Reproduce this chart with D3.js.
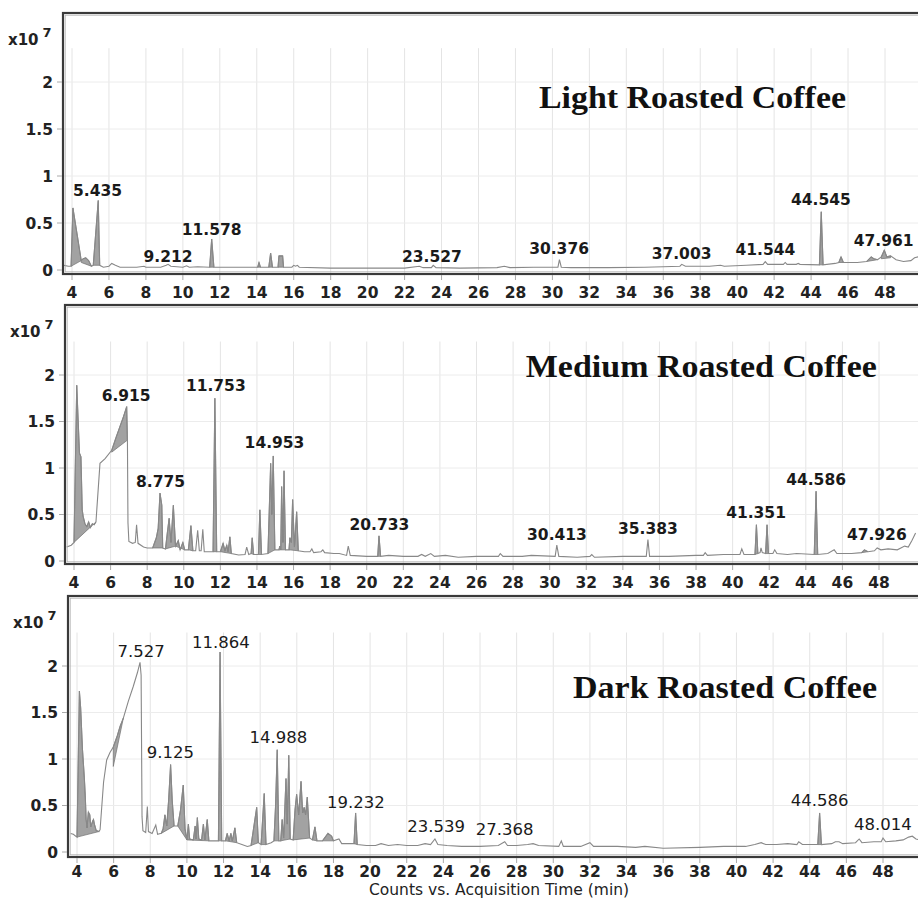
<!DOCTYPE html>
<html><head><meta charset="utf-8">
<script src="https://cdn.jsdelivr.net/npm/d3@7/dist/d3.min.js"></script>
<style>body{margin:0;background:#fff}svg{display:block}</style>
</head><body>
<svg id="c" width="918" height="899"></svg>
<script>
// ---------- DATA (time in min, counts in units of 1e7) ----------
const xTicks = [4,6,8,10,12,14,16,18,20,22,24,26,28,30,32,34,36,38,40,42,44,46,48];
const yTicks = [0,0.5,1,1.5,2];
const yTickLabels = ["0","0.5","1","1.5","2"];
const titles = ["Light Roasted Coffee","Medium Roasted Coffee","Dark Roasted Coffee"];
const xAxisTitle = "Counts vs. Acquisition Time (min)";

const lightSeries = [
[3.55,0.05],[3.8,0.04],[3.95,0.04],[4.05,0.66],[4.3,0.35],[4.5,0.10],[4.6,0.12],[4.75,0.13],[4.9,0.10],[5.05,0.04],[5.15,0.05],[5.42,0.74],[5.5,0.05],[5.7,0.03],[6.0,0.04],[6.15,0.07],[6.35,0.05],[6.6,0.03],[7.5,0.03],[7.9,0.04],[8.0,0.03],[8.8,0.03],[9.1,0.05],[9.2,0.06],[9.35,0.04],[10.0,0.03],[10.2,0.045],[10.35,0.03],[10.8,0.035],[11.45,0.03],[11.56,0.33],[11.68,0.03],[12.5,0.03],[13.5,0.03],[14.05,0.03],[14.12,0.08],[14.2,0.03],[14.65,0.03],[14.75,0.18],[14.85,0.03],[15.15,0.03],[15.2,0.15],[15.4,0.15],[15.45,0.03],[15.9,0.03],[16.0,0.05],[16.1,0.04],[16.2,0.05],[16.3,0.03],[18,0.02],[20,0.02],[22,0.02],[22.8,0.04],[23.0,0.025],[23.45,0.025],[23.55,0.05],[23.7,0.025],[25,0.02],[27,0.025],[27.4,0.04],[27.7,0.025],[29,0.03],[30.3,0.03],[30.38,0.11],[30.48,0.03],[31,0.025],[33,0.025],[35,0.03],[36,0.035],[36.9,0.04],[37.0,0.06],[37.2,0.04],[38.5,0.04],[39.1,0.05],[39.3,0.04],[40.5,0.05],[41.4,0.06],[41.52,0.09],[41.65,0.06],[42.5,0.06],[42.6,0.08],[42.7,0.06],[43.2,0.06],[43.3,0.07],[43.4,0.06],[44.45,0.055],[44.55,0.62],[44.65,0.055],[45.3,0.07],[45.5,0.08],[45.62,0.14],[45.75,0.08],[46.5,0.08],[47.0,0.09],[47.25,0.14],[47.4,0.12],[47.6,0.11],[47.8,0.14],[47.96,0.21],[48.1,0.14],[48.3,0.15],[48.6,0.11],[49.0,0.09],[49.4,0.1],[49.6,0.13],[49.8,0.14],[50,0.13]
];
const lightShade = [
[3.95,4.5,0.04,0.10],[4.5,5.05,0.08,0.04],[5.15,5.5,0.05,0.05],[11.45,11.68,0.03,0.03],[14.05,14.2,0.03,0.03],[14.65,14.85,0.03,0.03],[15.15,15.45,0.03,0.03],[44.45,44.65,0.055,0.055],[45.5,45.75,0.08,0.08],[47.0,47.6,0.09,0.11],[47.8,48.3,0.12,0.13]
];
const lightLabels = [
["5.435",5.38,0.79],["9.212",9.2,0.088],["11.578",11.56,0.37],["23.527",23.48,0.08],["30.376",30.36,0.17],["37.003",36.99,0.114],["41.544",41.53,0.16],["44.545",44.53,0.69],["47.961",47.93,0.26]
];

const mediumSeries = [
[3.6,0.15],[3.85,0.17],[4.0,0.2],[4.15,1.89],[4.25,1.4],[4.3,1.16],[4.38,1.12],[4.45,0.55],[4.5,0.48],[4.6,0.40],[4.7,0.37],[4.8,0.42],[4.9,0.36],[5.0,0.40],[5.1,0.39],[5.2,0.42],[5.42,1.05],[5.7,1.10],[6.06,1.19],[6.3,1.33],[6.5,1.44],[6.7,1.55],[6.88,1.66],[6.92,1.30],[6.95,0.41],[7.0,0.21],[7.2,0.19],[7.35,0.20],[7.42,0.39],[7.5,0.19],[7.8,0.15],[8.0,0.14],[8.3,0.14],[8.5,0.25],[8.6,0.35],[8.7,0.73],[8.8,0.6],[8.85,0.14],[9.0,0.13],[9.1,0.30],[9.2,0.46],[9.3,0.20],[9.43,0.60],[9.55,0.16],[9.7,0.22],[9.8,0.12],[9.95,0.2],[10.05,0.12],[10.25,0.12],[10.39,0.38],[10.5,0.11],[10.65,0.11],[10.76,0.33],[10.85,0.11],[10.95,0.11],[11.04,0.34],[11.12,0.10],[11.6,0.10],[11.7,1.75],[11.8,0.10],[12.0,0.10],[12.15,0.19],[12.25,0.11],[12.35,0.17],[12.42,0.10],[12.52,0.26],[12.6,0.08],[13.0,0.065],[13.35,0.07],[13.44,0.15],[13.55,0.07],[13.68,0.08],[13.74,0.25],[13.82,0.07],[14.08,0.07],[14.16,0.55],[14.25,0.07],[14.6,0.08],[14.75,1.05],[14.81,0.5],[14.89,1.13],[14.98,0.12],[15.2,0.12],[15.25,0.16],[15.3,0.12],[15.35,0.80],[15.42,0.2],[15.48,0.97],[15.56,0.12],[15.75,0.12],[15.8,0.25],[15.88,0.2],[15.95,0.66],[16.05,0.15],[16.17,0.53],[16.26,0.11],[16.6,0.10],[16.9,0.10],[17.0,0.13],[17.1,0.09],[17.5,0.10],[17.6,0.12],[17.7,0.09],[18.2,0.08],[18.5,0.08],[18.9,0.06],[18.99,0.16],[19.1,0.06],[20.0,0.05],[20.6,0.05],[20.67,0.27],[20.76,0.05],[21.2,0.06],[22,0.05],[22.8,0.05],[23.0,0.07],[23.2,0.05],[23.5,0.08],[23.7,0.05],[24.3,0.06],[25,0.04],[26,0.05],[27.2,0.05],[27.3,0.08],[27.45,0.05],[28.5,0.05],[29,0.06],[30.3,0.05],[30.39,0.17],[30.5,0.05],[31.5,0.04],[32.2,0.05],[32.3,0.07],[32.45,0.04],[34,0.05],[35.28,0.05],[35.37,0.23],[35.46,0.05],[36.5,0.05],[38,0.06],[38.4,0.06],[38.5,0.09],[38.62,0.06],[39.5,0.07],[40.4,0.07],[40.5,0.13],[40.62,0.07],[41.22,0.07],[41.3,0.39],[41.38,0.08],[41.5,0.09],[41.55,0.14],[41.62,0.09],[41.8,0.08],[41.88,0.39],[41.96,0.08],[42.2,0.08],[42.3,0.12],[42.42,0.08],[43.0,0.07],[43.5,0.08],[44.46,0.07],[44.56,0.75],[44.65,0.07],[45.2,0.08],[45.55,0.12],[45.7,0.08],[46.5,0.08],[47.05,0.09],[47.2,0.12],[47.4,0.10],[47.75,0.11],[47.9,0.14],[48.1,0.12],[48.5,0.13],[49.0,0.12],[49.4,0.16],[49.6,0.15],[49.8,0.22],[50,0.3]
];
const mediumShade = [
[4.0,5.2,0.2,0.42],[6.06,6.92,1.17,1.30],[8.3,8.85,0.14,0.14],[9.0,9.55,0.13,0.16],[9.55,10.05,0.16,0.12],[10.25,10.5,0.12,0.11],[11.6,11.8,0.10,0.10],[12.0,12.6,0.10,0.08],[13.68,13.82,0.08,0.07],[14.08,14.25,0.07,0.07],[14.6,14.98,0.08,0.12],[15.2,15.56,0.12,0.12],[15.75,16.26,0.12,0.11],[20.6,20.76,0.05,0.05],[41.22,41.38,0.07,0.08],[41.8,41.96,0.08,0.08],[44.46,44.65,0.07,0.07],[47.05,47.4,0.09,0.10]
];
const mediumLabels = [
["6.915",6.85,1.72],["8.775",8.73,0.80],["11.753",11.75,1.83],["14.953",14.96,1.21],["20.733",20.69,0.33],["30.413",30.40,0.23],["35.383",35.37,0.29],["41.351",41.28,0.46],["44.586",44.56,0.82],["47.926",47.88,0.23]
];

const darkSeries = [
[3.65,0.20],[3.8,0.19],[4.0,0.16],[4.13,1.73],[4.2,1.55],[4.3,1.10],[4.4,0.8],[4.45,0.61],[4.5,0.35],[4.55,0.26],[4.62,0.43],[4.7,0.40],[4.75,0.27],[4.85,0.33],[4.9,0.35],[4.95,0.30],[5.05,0.23],[5.2,0.22],[5.26,0.24],[5.45,0.75],[5.62,0.99],[5.8,1.07],[5.98,1.13],[6.2,1.25],[6.35,1.35],[6.53,1.44],[6.8,1.62],[7.07,1.78],[7.3,1.93],[7.44,2.04],[7.5,1.9],[7.55,0.38],[7.6,0.23],[7.75,0.21],[7.84,0.49],[7.9,0.22],[8.1,0.20],[8.3,0.29],[8.4,0.19],[8.6,0.20],[8.7,0.25],[8.8,0.40],[8.9,0.28],[9.0,0.55],[9.11,0.94],[9.2,0.55],[9.3,0.28],[9.5,0.28],[9.65,0.45],[9.8,0.72],[9.9,0.25],[10.0,0.13],[10.08,0.30],[10.15,0.14],[10.35,0.13],[10.45,0.28],[10.5,0.14],[10.57,0.37],[10.65,0.14],[10.8,0.13],[10.9,0.30],[10.98,0.13],[11.11,0.35],[11.2,0.12],[11.72,0.12],[11.81,2.15],[11.9,0.12],[12.1,0.12],[12.2,0.20],[12.3,0.12],[12.4,0.20],[12.48,0.12],[12.62,0.26],[12.72,0.10],[13.0,0.08],[13.3,0.06],[13.5,0.07],[13.6,0.20],[13.81,0.48],[13.9,0.10],[14.05,0.08],[14.22,0.63],[14.32,0.08],[14.6,0.10],[14.75,0.12],[14.84,0.50],[14.93,1.10],[15.02,0.12],[15.12,0.12],[15.2,0.35],[15.28,0.15],[15.41,0.79],[15.48,0.3],[15.56,1.04],[15.64,0.14],[15.8,0.13],[15.9,0.45],[15.99,0.62],[16.1,0.40],[16.23,0.76],[16.32,0.42],[16.4,0.48],[16.48,0.40],[16.57,0.59],[16.7,0.15],[16.85,0.13],[16.99,0.27],[17.1,0.12],[17.4,0.12],[17.7,0.20],[17.9,0.17],[18.0,0.12],[18.3,0.14],[18.45,0.09],[18.9,0.09],[19.12,0.09],[19.21,0.42],[19.3,0.08],[19.8,0.07],[20.3,0.07],[20.6,0.09],[21,0.07],[21.5,0.08],[22,0.07],[22.6,0.07],[23.0,0.09],[23.3,0.08],[23.54,0.14],[23.7,0.08],[24.2,0.07],[25,0.06],[26,0.06],[27.0,0.07],[27.35,0.11],[27.5,0.07],[28,0.07],[28.6,0.08],[28.9,0.09],[29.2,0.07],[30.3,0.06],[30.44,0.12],[30.55,0.06],[31.5,0.06],[32.0,0.10],[32.2,0.06],[33.5,0.06],[34.5,0.05],[35.0,0.06],[36,0.04],[38,0.05],[39.3,0.06],[40.5,0.06],[41.0,0.08],[41.35,0.10],[41.6,0.08],[42.2,0.08],[42.8,0.09],[43.3,0.08],[43.4,0.11],[43.6,0.08],[44.44,0.08],[44.54,0.42],[44.64,0.08],[45.2,0.09],[45.4,0.11],[45.6,0.11],[45.8,0.09],[46.5,0.10],[46.7,0.14],[46.85,0.10],[47.5,0.11],[47.9,0.11],[48.0,0.15],[48.15,0.11],[48.7,0.12],[49.1,0.13],[49.4,0.16],[49.6,0.17],[49.8,0.14],[50,0.13]
];
const darkShade = [
[4.0,5.2,0.16,0.22],[5.98,6.53,0.92,1.44],[8.6,9.3,0.20,0.28],[9.5,10.0,0.28,0.13],[10.0,11.2,0.13,0.12],[11.72,11.9,0.12,0.12],[12.1,12.72,0.12,0.10],[13.5,13.9,0.07,0.10],[14.05,14.32,0.08,0.08],[14.75,15.02,0.12,0.12],[15.12,15.64,0.12,0.14],[15.8,16.7,0.13,0.15],[16.85,17.1,0.13,0.12],[17.4,18.0,0.12,0.12],[19.12,19.3,0.09,0.08],[44.44,44.64,0.08,0.08]
];
const darkLabels = [
["7.527",7.50,2.10],["9.125",9.10,1.01],["11.864",11.85,2.19],["14.988",14.99,1.17],["19.232",19.22,0.47],["23.539",23.6,0.22],["27.368",27.35,0.18],["44.586",44.54,0.49],["48.014",47.99,0.24]
];

// ---------- LAYOUT ----------
const panels = [
  {series:lightSeries, shade:lightShade, labels:lightLabels, title:titles[0],
   L:63, T:13, B:274, x4:72, x48:885, y0:270, y2:82, tx:692.5, ty:108, tw:307, lw:"bold", ls:15.5, tk:24},
  {series:mediumSeries, shade:mediumShade, labels:mediumLabels, title:titles[1],
   L:65, T:305, B:564, x4:74, x48:879, y0:561, y2:375, tx:701.3, ty:377, tw:351, lw:"bold", ls:15.5, tk:24},
  {series:darkSeries, shade:darkShade, labels:darkLabels, title:titles[2],
   L:68, T:596, B:857, x4:77, x48:883, y0:852, y2:666, tx:725, ty:698, tw:304, lw:"normal", ls:16.5, tk:19.5}
];

const svg = d3.select("#c");
const R = 926;
const sans = "'DejaVu Sans', Verdana, sans-serif";

panels.forEach((p,i) => {
  const x = d3.scaleLinear().domain([4,48]).range([p.x4,p.x48]);
  const y = d3.scaleLinear().domain([0,2]).range([p.y0,p.y2]);
  const g = svg.append("g");

  const cid = "clip"+i;
  svg.append("clipPath").attr("id",cid).append("rect")
    .attr("x",p.L+1).attr("y",p.T+2).attr("width",R-p.L).attr("height",p.B-p.T-3);

  // grid
  const gridTop = y(2.36);
  g.append("g").selectAll("line").data(xTicks).join("line")
    .attr("x1",d=>x(d)).attr("x2",d=>x(d)).attr("y1",gridTop).attr("y2",p.B)
    .attr("stroke","#e4e4e4").attr("stroke-width",1);
  g.append("g").selectAll("line").data(yTicks.slice(1)).join("line")
    .attr("x1",p.L).attr("x2",R).attr("y1",d=>y(d)).attr("y2",d=>y(d))
    .attr("stroke","#ececec").attr("stroke-width",1);

  // shaded integrated peaks
  const area = g.append("g").attr("clip-path",`url(#${cid})`);
  const lineGen = d3.line().x(d=>x(d[0])).y(d=>y(d[1]));
  p.shade.forEach(s => {
    const pts = p.series.filter(d => d[0] >= s[0] && d[0] <= s[1]);
    const poly = pts.concat([[s[1],s[3]],[s[0],s[2]]]);
    area.append("path").attr("d", lineGen(poly)+"Z")
      .attr("fill","#a2a2a2").attr("stroke","#707070").attr("stroke-width",0.7);
  });
  // chromatogram line
  area.append("path").datum(p.series).attr("d",lineGen)
    .attr("fill","none").attr("stroke","#888").attr("stroke-width",1.1);

  // frame
  g.append("rect").attr("x",p.L).attr("y",p.T).attr("width",R-p.L).attr("height",p.B-p.T)
    .attr("fill","none").attr("stroke","#3a3a3a").attr("stroke-width",2.2);
  g.append("rect").attr("x",p.L+2.2).attr("y",p.T+2.2).attr("width",R-p.L).attr("height",p.B-p.T-4.4)
    .attr("fill","none").attr("stroke","#b0b0b0").attr("stroke-width",0.8);

  // x ticks
  g.append("g").selectAll("line").data(xTicks).join("line")
    .attr("x1",d=>x(d)).attr("x2",d=>x(d)).attr("y1",p.B+1).attr("y2",p.B+6)
    .attr("stroke","#aaa").attr("stroke-width",1);
  g.append("g").selectAll("text").data(xTicks).join("text")
    .attr("x",d=>x(d)).attr("y",p.B+p.tk).attr("text-anchor","middle")
    .attr("font-family",sans).attr("font-weight","bold").attr("font-size",15.5)
    .attr("fill","#222").text(d=>d);

  // y ticks
  g.append("g").selectAll("line").data(yTicks).join("line")
    .attr("x1",p.L-6).attr("x2",p.L-1).attr("y1",d=>y(d)).attr("y2",d=>y(d))
    .attr("stroke","#aaa").attr("stroke-width",1);
  g.append("g").selectAll("text").data(yTicks).join("text")
    .attr("x",p.L-10).attr("y",d=>y(d)).attr("dy","0.36em").attr("text-anchor","end")
    .attr("font-family",sans).attr("font-weight","bold").attr("font-size",15.5)
    .attr("fill","#222").text((d,j)=>yTickLabels[j]);

  // x10^7
  const e = g.append("text").attr("x",p.L-55).attr("y",p.T+32)
    .attr("font-family",sans).attr("font-weight","bold").attr("font-size",15).attr("fill","#222");
  e.append("tspan").text("x10");
  e.append("tspan").attr("dx",4).attr("dy",-8).attr("font-size",13).text("7");

  // peak labels
  g.append("g").selectAll("text").data(p.labels).join("text")
    .attr("x",d=>x(d[1])).attr("y",d=>y(d[2])).attr("text-anchor","middle")
    .attr("font-family",sans).attr("font-weight",p.lw).attr("font-size",p.ls)
    .attr("fill","#1a1a1a").text(d=>d[0]);

  // title
  g.append("text").attr("x",p.tx).attr("y",p.ty).attr("text-anchor","middle")
    .attr("font-family","'Liberation Serif','Times New Roman',serif").attr("font-weight","bold")
    .attr("font-size",31).attr("textLength",p.tw).attr("lengthAdjust","spacingAndGlyphs")
    .attr("fill","#111").text(p.title);
});

svg.append("text").attr("x",499).attr("y",894.5).attr("text-anchor","middle")
  .attr("font-family",sans).attr("font-size",15.5).attr("fill","#222").text(xAxisTitle);
</script>
</body></html>
